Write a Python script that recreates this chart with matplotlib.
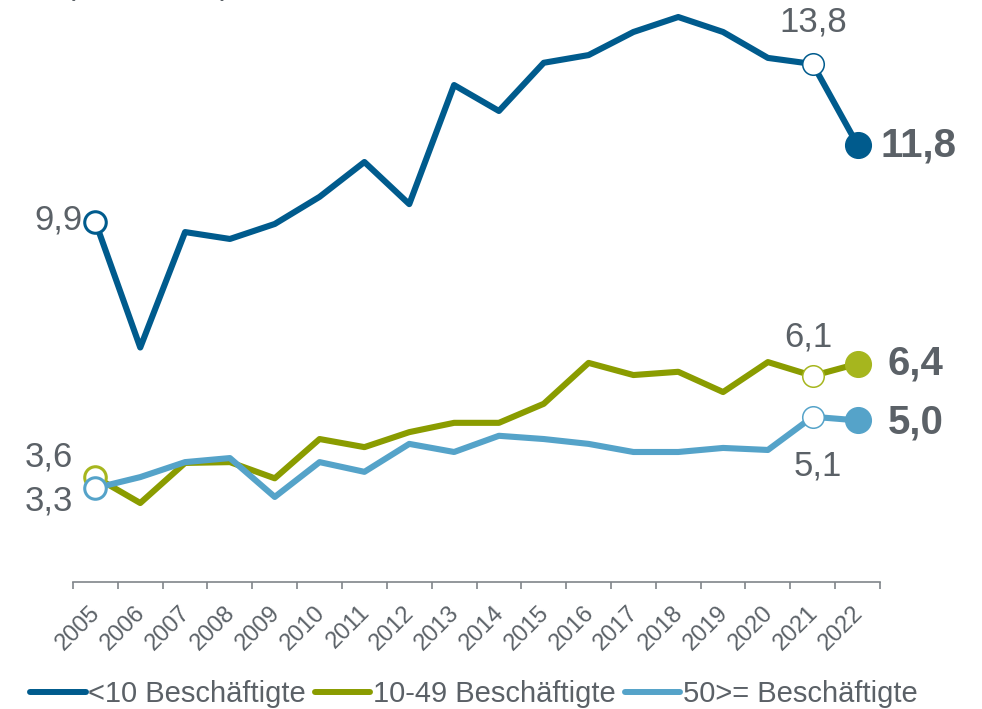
import matplotlib
matplotlib.use("Agg")
import matplotlib.pyplot as plt
from matplotlib.lines import Line2D
from matplotlib.transforms import ScaledTranslation

FONT_SIZE = 25
plt.rcParams.update({
    "font.family": ["Liberation Sans", "DejaVu Sans"],
    "font.size": FONT_SIZE,
})

GREY = "#5b6167"
AXIS_GREY = "#80858a"

years = ["2005", "2006", "2007", "2008", "2009", "2010", "2011", "2012", "2013",
         "2014", "2015", "2016", "2017", "2018", "2019", "2020", "2021", "2022"]
small = [9.9, 6.8, 9.65, 9.48, 9.85, 10.52, 11.38, 10.34, 13.28,
         12.64, 13.83, 14.02, 14.59, 14.96, 14.59, 13.95, 13.8, 11.8]
medium = [3.6, 2.96, 3.95, 3.97, 3.57, 4.54, 4.34, 4.71, 4.94,
          4.94, 5.41, 6.42, 6.12, 6.2, 5.7, 6.44, 6.1, 6.4]
large = [3.33, 3.6, 3.97, 4.07, 3.11, 3.97, 3.73, 4.42, 4.22,
         4.62, 4.54, 4.42, 4.22, 4.22, 4.32, 4.27, 5.09, 5.0]
names = ["<10 Beschäftigte", "10-49 Beschäftigte", "50>= Beschäftigte"]


def fmt(v):
    return ("%.1f" % v).replace(".", ",")


def px(n):
    # pixel offsets -> points at dpi 100
    return n * 0.72


fig = plt.figure(figsize=(9.82, 7.09), dpi=100)
ax = fig.add_axes([73 / 982, 1 - 582 / 709, 807 / 982, 582 / 709])

x = list(range(len(years)))
series = [
    (medium, "#8a9c00", "#a6b61e", 2),
    (large, "#55a3c9", "#55a3c9", 3),
    (small, "#005b8d", "#005b8d", 4),
]
for values, color, mcolor, z in series:
    ax.plot(x, values, color=color, lw=4.4, solid_joinstyle="round",
            solid_capstyle="round", zorder=z, clip_on=False)
    # open markers at start and 2021, filled at 2022
    ax.plot(x[0], values[0], "o", ms=15.5, mfc="white", mec=mcolor,
            mew=2.2, zorder=z + 5, clip_on=False)
    ax.plot(x[-2], values[-2], "o", ms=15.5, mfc="white", mec=mcolor,
            mew=1.1, zorder=z + 5, clip_on=False)
    ax.plot(x[-1], values[-1], "o", ms=18.5, color=mcolor,
            zorder=z + 5, clip_on=False)


def label(i, v, dx, dy, ha, bold=False):
    ax.annotate(fmt(v), (i, v), xytext=(px(dx), px(dy)),
                textcoords="offset points", ha=ha, va="center",
                color=GREY, fontsize=29 if bold else FONT_SIZE,
                fontweight="bold" if bold else "normal",
                annotation_clip=False)


label(0, small[0], -13, 2, "right")
label(16, small[16], 1, 42, "center")
label(17, small[17], 23, -1, "left", bold=True)

label(0, medium[0], -22, 20, "right")
label(16, medium[16], -4, 39, "center")
label(17, medium[17], 30, 0, "left", bold=True)

label(0, large[0], -22, -13, "right")
label(16, large[16], 5, -49, "center")
label(17, large[17], 30, -2, "left", bold=True)

ax.set_xlim(-0.5, 17.5)
ax.set_ylim(1.01, 15.38)
ax.set_yticks([])
for side in ["left", "right", "top"]:
    ax.spines[side].set_visible(False)
ax.spines["bottom"].set_color(AXIS_GREY)
ax.spines["bottom"].set_linewidth(1.2)

ax.set_xticks([i - 0.5 for i in range(len(years) + 1)])
ax.set_xticklabels([])
ax.tick_params(axis="x", which="major", length=5, width=1.2, color=AXIS_GREY)
ax.set_xticks(x, minor=True)
ax.set_xticklabels(years, minor=True, rotation=45, ha="right",
                   rotation_mode="anchor", color=GREY, fontsize=17)
ax.tick_params(axis="x", which="minor", length=0, pad=14)
shift = ScaledTranslation(-6 / 100, 0, fig.dpi_scale_trans)
for lab in ax.get_xticklabels(minor=True):
    lab.set_transform(lab.get_transform() + shift)

fig.text(65 / 982, 1 + 6 / 709, "(in Prozent)", ha="left", va="baseline",
         color=GREY, fontsize=23)

handles = [Line2D([], [], color=c, lw=4.3, solid_capstyle="round")
           for c in ["#005b8d", "#8a9c00", "#55a3c9"]]
fig.legend(handles, names, loc="center", bbox_to_anchor=(474 / 982, 1 - 694 / 709),
           ncol=3, frameon=False, fontsize=21, handlelength=1.9,
           handletextpad=0.1, columnspacing=0.3, labelcolor=GREY,
           borderpad=0, borderaxespad=0)

fig.savefig("out.png", dpi=100)
